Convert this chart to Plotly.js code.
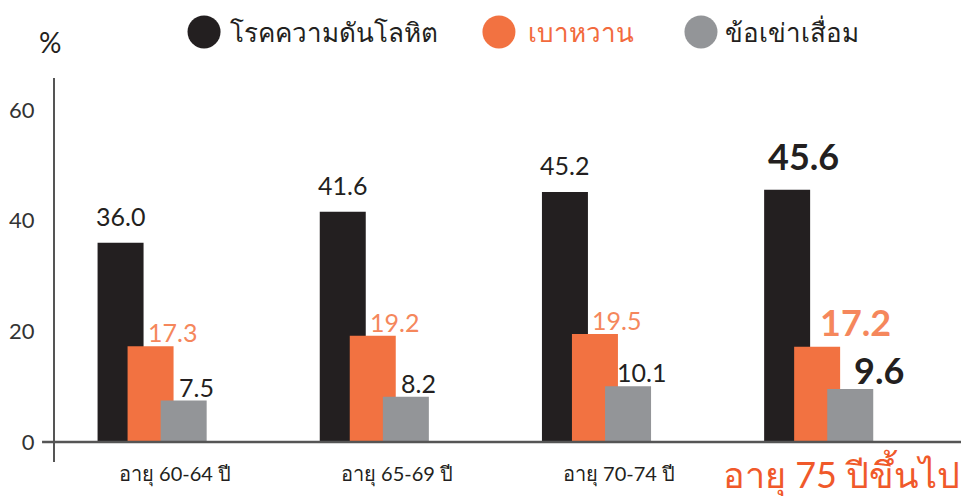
<!DOCTYPE html>
<html><head><meta charset="utf-8">
<script src="https://cdn.plot.ly/plotly-3.0.1.min.js"></script>
<style>html,body{margin:0;padding:0;background:#fff}#chart{width:961px;height:496px}</style>
</head><body><div id="chart"></div>
<script>
// ---- data ----
const categories = ['อายุ 60-64 ปี', 'อายุ 65-69 ปี', 'อายุ 70-74 ปี', 'อายุ 75 ปีขึ้นไป'];
const seriesNames = ['โรคความดันโลหิต', 'เบาหวาน', 'ข้อเข่าเสื่อม'];
const hypertension = [36.0, 41.6, 45.2, 45.6];
const diabetes = [17.3, 19.2, 19.5, 17.2];
const kneeOsteoarthritis = [7.5, 8.2, 10.1, 9.6];
const yTickValues = [0, 20, 40, 60];
const yTickLabels = ['0', '20', '40', '60'];

// ---- styles ----
const FONT = "Lato, 'Noto Sans', 'DejaVu Sans', sans-serif";
const barColors = ['#231f20', '#f27241', '#939598'];
const labelColors = ['#231f20', '#f5875c', '#231f20'];
const legendTextColors = ['#231f20', '#f26a3d', '#231f20'];
const barOffsets = [-0.249, -0.114, 0.035];
const barWidth = 0.207;
const labelShiftPx = [0, 22, 13];
const lastShiftPx = 16;
const labelYShift = [10, -3, -3];
const lastYShift = [10, 1, -5];
const PX_PER_UNIT = 222.2;

const seriesValues = [hypertension, diabetes, kneeOsteoarthritis];
const traces = seriesValues.map((vals, s) => ({
  type: 'bar', name: seriesNames[s], x: categories, y: vals,
  offset: barOffsets[s], width: barWidth,
  marker: {color: barColors[s], line: {width: 0}},
  showlegend: false, hoverinfo: 'skip'
}));

const annotations = [];
seriesValues.forEach((vals, s) => {
  vals.forEach((v, i) => {
    const last = i === categories.length - 1;
    const centerPx = (barOffsets[s] + barWidth / 2) * PX_PER_UNIT;
    annotations.push({
      xref: 'x', yref: 'y', x: categories[i], y: v,
      text: v.toFixed(1), showarrow: false,
      xanchor: 'center', yanchor: 'bottom',
      xshift: centerPx + labelShiftPx[s] + (last ? lastShiftPx : 0),
      yshift: last ? lastYShift[s] : labelYShift[s],
      font: {family: FONT, size: last ? 36 : 25, color: labelColors[s], weight: last ? 'bold' : 'normal'}
    });
  });
});
// category labels
categories.forEach((c, i) => {
  const last = i === categories.length - 1;
  annotations.push({
    xref: 'x', yref: 'paper', x: c, y: -0.031, text: c, showarrow: false,
    xanchor: 'center', yanchor: 'middle', xshift: 22,
    font: {family: FONT, size: last ? 36 : 20, color: last ? '#f0592a' : '#231f20'}
  });
});
// % unit
annotations.push({xref: 'paper', yref: 'paper', x: -0.006, y: 1.094, text: '%', showarrow: false,
  xanchor: 'center', yanchor: 'middle', font: {family: FONT, size: 28, color: '#231f20'}});

// legend (custom large circle keys)
const legendCircleX = [0.1645, 0.490, 0.713];
const legendTextX = [0.191, 0.520, 0.7373];
const legendY = 1.12;
const shapes = [];
seriesNames.forEach((n, s) => {
  shapes.push({type: 'circle', xref: 'paper', yref: 'paper', xsizemode: 'pixel', ysizemode: 'pixel',
    xanchor: legendCircleX[s], yanchor: legendY, x0: -16.5, x1: 16.5, y0: -16.5, y1: 16.5,
    fillcolor: barColors[s], line: {width: 0}});
  annotations.push({xref: 'paper', yref: 'paper', x: legendTextX[s], y: legendY, text: n, showarrow: false,
    xanchor: 'left', yanchor: 'middle', font: {family: FONT, size: 26, color: legendTextColors[s]}});
});
// x axis baseline
shapes.push({type: 'line', xref: 'paper', yref: 'y', x0: -0.0143, x1: 1, y0: 0, y1: 0,
  line: {color: '#555555', width: 2.5}, layer: 'above'});

const layout = {
  width: 961, height: 496,
  margin: {l: 55, r: 0, t: 78, b: 34},
  paper_bgcolor: '#ffffff', plot_bgcolor: '#ffffff',
  barmode: 'overlay',
  font: {family: FONT, color: '#231f20'},
  xaxis: {type: 'category', range: [-0.4406, 3.637], showticklabels: false, showgrid: false,
    zeroline: false, showline: false, ticks: ''},
  yaxis: {range: [-3.61, 65.78], tickvals: yTickValues, ticktext: yTickLabels, showgrid: false,
    zeroline: false, showline: true, linecolor: '#555555', linewidth: 2,
    ticks: 'outside', ticklen: 14, tickcolor: 'rgba(0,0,0,0)',
    tickfont: {family: FONT, size: 22, color: '#333333'}},
  annotations: annotations,
  shapes: shapes,
  showlegend: false
};
Plotly.newPlot('chart', traces, layout, {staticPlot: true, displayModeBar: false});
</script></body></html>
